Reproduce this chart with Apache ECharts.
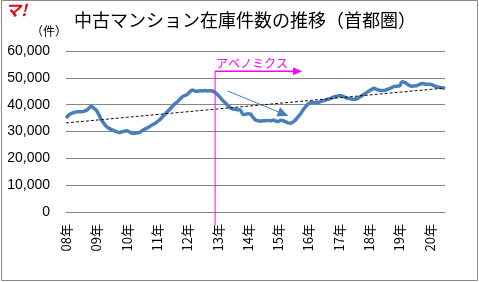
<!DOCTYPE html>
<html><head><meta charset="utf-8">
<script src="https://cdn.jsdelivr.net/npm/echarts@6/dist/echarts.min.js"></script>
<style>html,body{margin:0;padding:0;background:#fff}#c{width:479px;height:282px}</style>
</head><body><div id="c"></div>
<script>
const titleText = '中古マンション在庫件数の推移（首都圏）';
const unitText = '（件）';
const yearLabels = ['08年','09年','10年','11年','12年','13年','14年','15年','16年','17年','18年','19年','20年'];
// monthly stock, Jan 2008 .. Jul 2020
const stock = [
35000,36000,36700,37000,37300,37400,37400,37500,37800,38600,39400,38700,
37900,36300,34300,33000,31900,31200,30700,30300,29900,29600,29800,30100,
30300,29900,29400,29300,29500,29600,30200,30800,31300,31800,32400,32900,
33600,34300,35300,36300,37300,38200,39300,40300,41000,42000,42900,43400,
43800,44800,45500,45100,45000,45200,45100,45300,45100,45200,45100,44600,
43700,42700,41600,40700,39700,38800,38400,38300,38100,38000,36300,36400,
36600,36500,35300,34300,34000,33900,34000,34000,34100,34000,34300,33900,
33700,34200,34000,33600,33200,33100,33700,34500,35600,36800,38300,39400,
40400,40700,40700,40800,40900,41200,41500,41800,42100,42400,42900,43100,
43300,43300,42900,42500,42300,42100,42000,42200,42700,43300,43900,44500,
45100,45700,46100,45600,45400,45300,45300,45600,46000,46400,46800,46900,
47000,48500,48300,47700,47100,46900,47000,47100,47600,47900,47700,47600,
47600,47400,46900,46600,46400,46300,46100
];
const trendStart = 33200, trendEnd = 46200;
const abenomicsLabel = 'アベノミクス';
const abenomicsIndex = 59; // Dec 2012
const abenomicsTopValue = 52500;
const arrowFrom = [64, 45100], arrowTo = [87.6, 35800];

const categories = stock.map((v, i) => {
  const y = 8 + Math.floor(i / 12), m = i % 12 + 1;
  return String(y).padStart(2, '0') + '/' + String(m).padStart(2, '0');
});
const trend = stock.map((v, i) => i === 0 ? trendStart : (i === stock.length - 1 ? trendEnd : null));

const chart = echarts.init(document.getElementById('c'), null, {renderer: 'canvas'});
chart.setOption({
  animation: false,
  title: {text: titleText, left: 69, top: 6,
    textStyle: {fontFamily: 'Noto Sans CJK JP', fontSize: 18, fontWeight: 'normal', color: '#000'}},
  grid: {left: 66, right: 34, top: 51, bottom: 70},
  xAxis: {type: 'category', data: categories, boundaryGap: false,
    axisLine: {show: true, lineStyle: {color: '#868686'}},
    axisTick: {show: false},
    axisLabel: {rotate: 90, margin: 12, interval: i => i % 12 === 0,
      formatter: (v, i) => yearLabels[Math.floor(i / 12)],
      fontFamily: 'Noto Sans CJK JP', fontSize: 13, color: '#000'}},
  yAxis: {type: 'value', min: 0, max: 60000, interval: 10000,
    axisLine: {show: false}, axisTick: {show: false},
    splitLine: {lineStyle: {color: '#868686'}},
    axisLabel: {margin: 16, fontFamily: 'Liberation Sans', fontSize: 14, color: '#000',
      formatter: v => v.toLocaleString('en-US')}},
  series: [
    {type: 'line', data: stock, showSymbol: false, smooth: 0.2,
      lineStyle: {color: '#4a7ebb', width: 3.5}, z: 3},
    {type: 'line', data: trend, connectNulls: true, showSymbol: false,
      lineStyle: {color: '#111', width: 1, type: [3, 2]}, z: 4}
  ]
});

const p = (i, v) => chart.convertToPixel({xAxisIndex: 0, yAxisIndex: 0}, [i, v]);
const vTop = p(abenomicsIndex, abenomicsTopValue);
const vBot = p(abenomicsIndex, 0);
const a0 = p(arrowFrom[0], arrowFrom[1]);
const a1 = p(arrowTo[0], arrowTo[1]);
const ang = Math.atan2(a1[1] - a0[1], a1[0] - a0[0]);
const hl = 11, hw = 5;
const base = [a1[0] - hl * Math.cos(ang), a1[1] - hl * Math.sin(ang)];
const head = [a1, [base[0] + hw * Math.sin(ang), base[1] - hw * Math.cos(ang)],
  [base[0] - hw * Math.sin(ang), base[1] + hw * Math.cos(ang)]];
const hx0 = vTop[0], hx1 = vTop[0] + 87;

chart.setOption({graphic: [
  {type: 'rect', shape: {x: 1.5, y: 0.5, width: 476, height: 280}, style: {fill: null, stroke: '#888', lineWidth: 1}, silent: true},
  {type: 'text', x: 5, y: 2, style: {text: 'マ!', fill: '#e60012', font: 'italic bold 16px "Noto Sans CJK JP"'}},
  {type: 'text', x: 31, y: 25, style: {text: unitText, fill: '#000', font: '12px "Noto Sans CJK JP"'}},
  {type: 'line', shape: {x1: vTop[0], y1: vTop[1], x2: vBot[0], y2: vBot[1] + 13}, style: {stroke: '#ff00ff', lineWidth: 1}, z: 10},
  {type: 'line', shape: {x1: hx0, y1: vTop[1], x2: hx1 - 6, y2: vTop[1]}, style: {stroke: '#ff00ff', lineWidth: 1.5}, z: 10},
  {type: 'polygon', shape: {points: [[hx1, vTop[1]], [hx1 - 9, vTop[1] - 4], [hx1 - 9, vTop[1] + 4]]}, style: {fill: '#ff00ff'}, z: 10},
  {type: 'text', x: hx0 + 1, y: vTop[1] - 14, style: {text: abenomicsLabel, fill: '#ff00ff', font: '12px "Noto Sans CJK JP"'}, z: 10},
  {type: 'line', shape: {x1: a0[0], y1: a0[1], x2: base[0], y2: base[1]}, style: {stroke: '#4a7ebb', lineWidth: 1}, z: 10},
  {type: 'polygon', shape: {points: head}, style: {fill: '#4a7ebb'}, z: 10}
]});
</script></body></html>
